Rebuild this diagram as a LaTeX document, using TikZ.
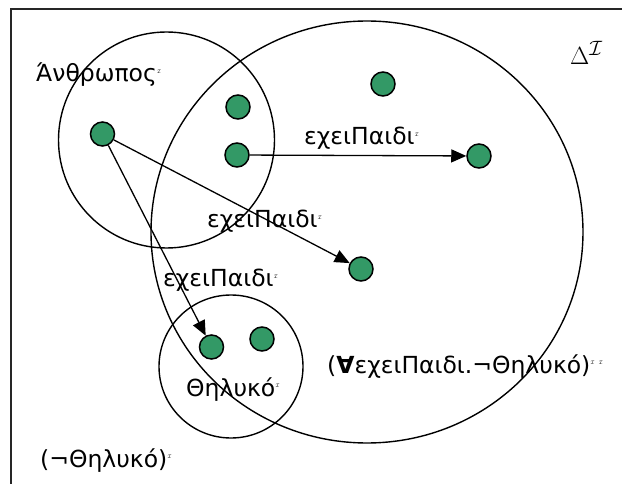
\documentclass[tikz,border=0pt]{standalone}
\usepackage{fontspec}
\setmainfont{DejaVu Sans}
\usetikzlibrary{arrows.meta}
\definecolor{dotgreen}{RGB}{51,153,102}
\newcommand\mk{\raisebox{0.7ex}{\fontsize{5}{5}\selectfont$\mathcal{I}$}}
\begin{document}
\begin{tikzpicture}[x=1pt,y=-1pt,
  dot/.style={circle,draw=black,line width=1.5pt,fill=dotgreen,minimum size=24pt,inner sep=0pt},
  setline/.style={draw=black,line width=1.4pt},
  arr/.style={line width=1.3pt,-{Triangle[length=15pt,width=13pt]},shorten <=0pt},
  lbl/.style={anchor=base west,inner sep=0pt,font=\fontsize{23.5}{23.5}\selectfont}]
\useasboundingbox (0,0) rectangle (622,484);
\fill[white] (0,0) rectangle (622,484);
\draw[line width=1.8pt,draw=black!85] (11,9) rectangle (640,500);
% sets
\draw[setline] (367,232) ellipse [x radius=216pt, y radius=211pt];
\draw[setline] (166.5,140) ellipse [x radius=108pt, y radius=108pt];
\draw[setline] (231,366.5) ellipse [x radius=72pt, y radius=71.5pt];
% individuals
\node[dot] (d1) at (102.5,134) {};
\node[dot] (d2) at (238,107) {};
\node[dot] (d3) at (237,155) {};
\node[dot] (d4) at (383,84) {};
\node[dot] (d5) at (479,156) {};
\node[dot] (d6) at (361,269) {};
\node[dot] (d7) at (211.5,347) {};
\node[dot] (d8) at (262,339) {};
% roles
\draw[arr] (d3) -- (d5);
\draw[arr] (d1) -- (d6);
\draw[arr] (d1) -- (d7);
% labels
\node[lbl] (t1) at (304,145) {εχειΠαιδι\mk};
\node[lbl] (t2) at (207,228) {εχειΠαιδι\mk};
\node[lbl] (t3) at (163,287) {εχειΠαιδι\mk};
\node[lbl] (t4) at (36,82) {Άνθρωπος\mk};
\node[lbl] (t5) at (327,373) {({\bfseries ∀}εχειΠαιδι.¬Θηλυκό)\mk\,\mk};
\node[lbl] (t6) at (186,396) {Θηλυκό\mk};
\node[lbl] (t7) at (40,467) {(¬Θηλυκό)\mk};
\node[anchor=base west,inner sep=0pt,font=\fontsize{31}{31}\selectfont] (delta) at (570,65) {$\Delta^{\mathcal{I}}$};
\end{tikzpicture}
\end{document}
